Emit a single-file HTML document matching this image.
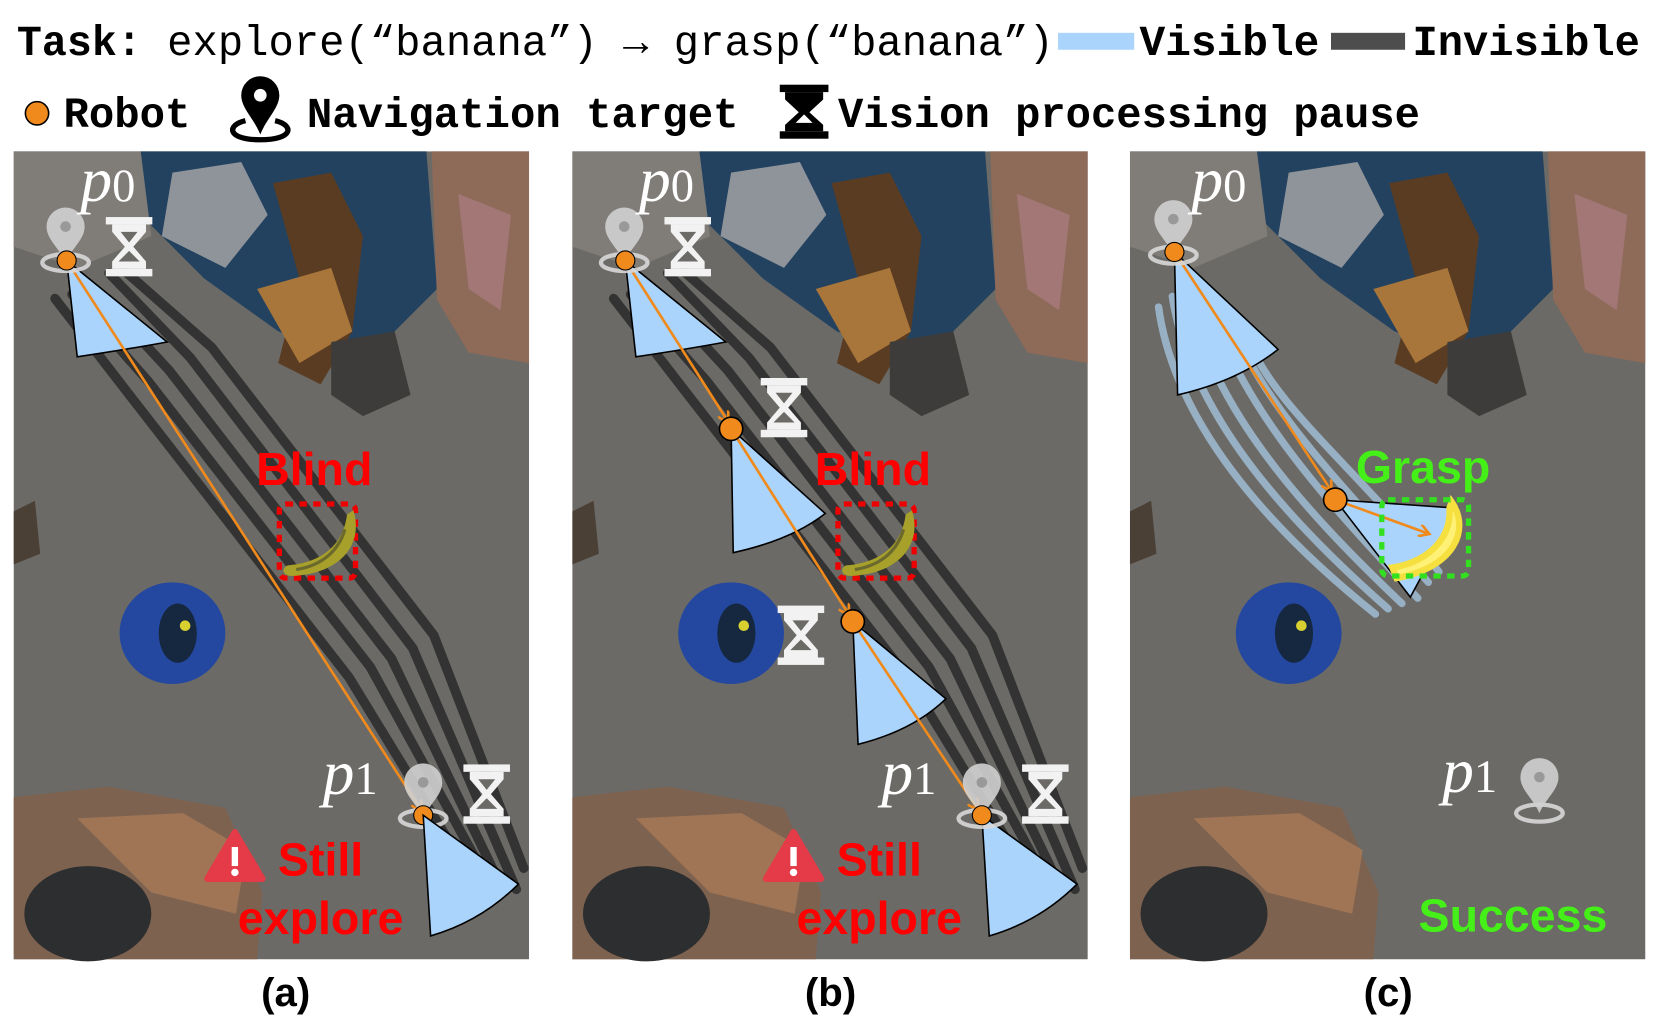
<!DOCTYPE html>
<html><head><meta charset="utf-8"><style>html,body{margin:0;padding:0;background:#fff}svg{display:block}</style></head>
<body>
<svg width="1659" height="1027" viewBox="0 0 1568 970" preserveAspectRatio="none" xmlns="http://www.w3.org/2000/svg">
<defs>
<g id="bg">
<rect x="0" y="0" width="487" height="763" fill="#6b6a66"/>
<path d="M120,0 L390,0 L400,130 L330,200 L250,170 L180,120 L120,60Z" fill="#234260"/>
<path d="M0,0 L120,0 L130,80 L60,110 L0,90Z" fill="#807d78"/>
<path d="M150,20 L215,10 L240,60 L200,110 L140,80Z" fill="#8f949a"/>
<path d="M245,30 L300,20 L330,80 L320,170 L290,220 L250,200 L270,120Z" fill="#5a3c22"/>
<path d="M230,130 L300,110 L320,170 L270,200Z" fill="#a8763a"/>
<path d="M300,180 L360,170 L375,230 L330,250 L300,230Z" fill="#3e3c3a"/>
<path d="M395,0 L487,0 L487,200 L430,190 L400,140Z" fill="#8e6a58"/>
<path d="M420,40 L470,60 L460,150 L430,130Z" fill="#b0808a" opacity="0.6"/>
<ellipse cx="150" cy="455" rx="50" ry="48" fill="#2448a0"/>
<ellipse cx="155" cy="455" rx="18" ry="28" fill="#152840"/>
<circle cx="162" cy="448" r="5" fill="#d8d030"/>
<path d="M0,610 L90,600 L200,620 L235,700 L230,763 L0,763Z" fill="#7e6250"/>
<path d="M60,630 L160,625 L220,660 L210,720 L130,700Z" fill="#a87a58" opacity="0.8"/>
<ellipse cx="70" cy="720" rx="60" ry="45" fill="#2c2e30"/>
<path d="M0,340 L20,330 L25,380 L0,390Z" fill="#4a4036"/>
</g>
<g id="pin">
<ellipse cx="0" cy="28" rx="22" ry="8" fill="none" stroke="#d8d8d8" stroke-width="4" opacity="0.9"/>
<path d="M0,28 C-6,14 -18,6 -18,-6 A18,18 0 1 1 18,-6 C18,6 6,14 0,28Z" fill="#d0d0d0" opacity="0.9"/>
<circle cx="0" cy="-6" r="5" fill="#999"/>
</g>
<g id="hg">
<rect x="-22" y="-28" width="44" height="7" fill="#f2f2f2"/>
<rect x="-22" y="21" width="44" height="7" fill="#f2f2f2"/>
<path d="M-16,-21 L16,-21 L16,-14 L4,0 L16,14 L16,21 L-16,21 L-16,14 L-4,0 L-16,-14Z" fill="#f2f2f2"/>
<path d="M-8,-14 L8,-14 L0,-4Z M-10,14 L10,14 L0,4Z" fill="#6b6a66"/>
</g>
<g id="banana"><path d="M-28,24 C0,22 24,8 28,-24 L34,-28 C44,4 22,32 -24,34 C-34,34 -34,26 -28,24Z" fill="#a7a02a"/><path d="M-20,28 C5,24 20,10 26,-10" fill="none" stroke="#6b6a2c" stroke-width="3"/></g>
<marker id="ar" markerWidth="12" markerHeight="12" refX="9" refY="6" orient="auto" markerUnits="userSpaceOnUse"><path d="M0,0 L10,6 L0,12" fill="none" stroke="#f08a1c" stroke-width="2.5"/></marker>
<g id="warn"><path d="M0,-24 L26,20 L-26,20Z" fill="#e53a48" stroke="#e53a48" stroke-width="6" stroke-linejoin="round"/><rect x="-3" y="-10" width="6" height="18" fill="#fff"/><circle cx="0" cy="14" r="3.5" fill="#fff"/></g>
</defs>

<g font-family="'Liberation Mono','DejaVu Sans Mono',monospace" font-size="40" fill="#000">
<text x="16" y="52" textLength="118" lengthAdjust="spacingAndGlyphs" font-weight="bold">Task:</text>
<text x="158" y="52" textLength="838" lengthAdjust="spacingAndGlyphs">explore(“banana”) → grasp(“banana”)</text>
<rect x="1000" y="31" width="72" height="16" fill="#aad4fb"/>
<text x="1077" y="52" textLength="170" lengthAdjust="spacingAndGlyphs" font-weight="bold">Visible</text>
<rect x="1258" y="31" width="70" height="16" fill="#4d4d4d"/>
<text x="1335" y="52" textLength="215" lengthAdjust="spacingAndGlyphs" font-weight="bold">Invisible</text>
<circle cx="35" cy="107" r="11" fill="#f08a1c" stroke="#000" stroke-width="1.5"/>
<text x="60" y="120" textLength="120" lengthAdjust="spacingAndGlyphs" font-weight="bold">Robot</text>
<path d="M246,127 C240,112 228,102 228,90 A18,18 0 1 1 264,90 C264,102 252,112 246,127Z" fill="#000"/>
<circle cx="246" cy="90" r="6" fill="#fff"/>
<path d="M232,114 C214,118 214,132 246,132 C278,132 278,118 260,114" fill="none" stroke="#000" stroke-width="5"/>
<text x="290" y="120" textLength="408" lengthAdjust="spacingAndGlyphs" font-weight="bold">Navigation target</text>
<rect x="737" y="80" width="46" height="7" fill="#000"/><rect x="737" y="124" width="46" height="7" fill="#000"/>
<path d="M742,87 L778,87 L778,94 L765,106 L778,118 L778,124 L742,124 L742,118 L755,106 L742,94Z" fill="#000"/>
<path d="M752,116 L768,116 L760,108Z" fill="#fff"/>
<text x="792" y="120" textLength="550" lengthAdjust="spacingAndGlyphs" font-weight="bold">Vision processing pause</text>
</g>

<use href="#bg" x="13" y="143"/>
<use href="#bg" x="541" y="143"/>
<use href="#bg" x="1068" y="143"/>

<!-- Panel A -->
<g>
<g fill="none" stroke="#333" stroke-width="9" stroke-linecap="round">
<path d="M52,282 L120,370 L330,640 L440,820"/>
<path d="M68,278 L140,360 L350,630 L460,830"/>
<path d="M86,270 L160,350 L370,622 L475,840"/>
<path d="M103,258 L180,338 L390,612 L488,840"/>
<path d="M118,256 L200,328 L410,600 L495,820"/>
</g>
<path d="M63,246 L73,337 Q120,330 158,323Z" fill="#aad4fb" stroke="#000" stroke-width="1.5"/>
<line x1="63" y1="246" x2="398" y2="765" stroke="#f08a1c" stroke-width="2.5" marker-end="url(#ar)"/>
<use href="#pin" x="62" y="220"/>
<circle cx="63" cy="246" r="9" fill="#f08a1c" stroke="#000" stroke-width="1"/>
<use href="#hg" x="122" y="233"/>
<text x="76" y="190" font-family="'Liberation Serif',serif" font-style="italic" font-size="60" fill="#fff">p<tspan font-style="normal" font-size="44">0</tspan></text>
<text x="297" y="458" text-anchor="middle" font-family="'Liberation Sans',sans-serif" font-weight="bold" font-size="44" fill="#f00">Blind</text>
<rect x="264" y="476" width="72" height="70" rx="6" fill="none" stroke="#e00" stroke-width="5" stroke-dasharray="7,6"/>
<use href="#banana" x="300" y="510"/>
<use href="#pin" x="400" y="745"/>
<circle cx="400" cy="770" r="9" fill="#f08a1c" stroke="#000" stroke-width="1"/>
<use href="#hg" x="460" y="750"/>
<text x="305" y="750" font-family="'Liberation Serif',serif" font-style="italic" font-size="60" fill="#fff">p<tspan font-style="normal" font-size="44">1</tspan></text>
<path d="M400,770 L407,884 Q455,870 490,835Z" fill="#aad4fb" stroke="#000" stroke-width="1.5"/>
<use href="#warn" x="222" y="810"/>
<text x="303" y="827" text-anchor="middle" font-family="'Liberation Sans',sans-serif" font-weight="bold" font-size="44" fill="#f00">Still</text>
<text x="303" y="882" text-anchor="middle" font-family="'Liberation Sans',sans-serif" font-weight="bold" font-size="44" fill="#f00">explore</text>
<text x="270" y="950" text-anchor="middle" font-family="'Liberation Sans',sans-serif" font-weight="bold" font-size="38">(a)</text>
</g>

<!-- Panel B -->
<g transform="translate(528,0)">
<g fill="none" stroke="#333" stroke-width="9" stroke-linecap="round">
<path d="M52,282 L120,370 L330,640 L440,820"/>
<path d="M68,278 L140,360 L350,630 L460,830"/>
<path d="M86,270 L160,350 L370,622 L475,840"/>
<path d="M103,258 L180,338 L390,612 L488,840"/>
<path d="M118,256 L200,328 L410,600 L495,820"/>
</g>
<path d="M63,246 L73,337 Q120,330 158,323Z" fill="#aad4fb" stroke="#000" stroke-width="1.5"/>
<path d="M163,405 L165,522 Q220,510 252,485Z" fill="#aad4fb" stroke="#000" stroke-width="1.5"/>
<path d="M278,587 L283,703 Q335,690 366,660Z" fill="#aad4fb" stroke="#000" stroke-width="1.5"/>
<path d="M400,770 L407,884 Q455,870 490,835Z" fill="#aad4fb" stroke="#000" stroke-width="1.5"/>
<g stroke="#f08a1c" stroke-width="2.5">
<line x1="63" y1="246" x2="160" y2="398" marker-end="url(#ar)"/>
<line x1="163" y1="405" x2="274" y2="580" marker-end="url(#ar)"/>
<line x1="278" y1="587" x2="396" y2="764" marker-end="url(#ar)"/>
</g>
<use href="#pin" x="62" y="220"/>
<circle cx="63" cy="246" r="9" fill="#f08a1c" stroke="#000" stroke-width="1"/>
<circle cx="163" cy="405" r="11" fill="#f08a1c" stroke="#000" stroke-width="1.5"/>
<circle cx="278" cy="587" r="11" fill="#f08a1c" stroke="#000" stroke-width="1.5"/>
<use href="#hg" x="122" y="233"/>
<use href="#hg" x="213" y="385"/>
<use href="#hg" x="229" y="600"/>
<text x="76" y="190" font-family="'Liberation Serif',serif" font-style="italic" font-size="60" fill="#fff">p<tspan font-style="normal" font-size="44">0</tspan></text>
<text x="297" y="458" text-anchor="middle" font-family="'Liberation Sans',sans-serif" font-weight="bold" font-size="44" fill="#f00">Blind</text>
<rect x="264" y="476" width="72" height="70" rx="6" fill="none" stroke="#e00" stroke-width="5" stroke-dasharray="7,6"/>
<use href="#banana" x="300" y="510"/>
<use href="#pin" x="400" y="745"/>
<circle cx="400" cy="770" r="9" fill="#f08a1c" stroke="#000" stroke-width="1"/>
<use href="#hg" x="460" y="750"/>
<text x="305" y="750" font-family="'Liberation Serif',serif" font-style="italic" font-size="60" fill="#fff">p<tspan font-style="normal" font-size="44">1</tspan></text>
<use href="#warn" x="222" y="810"/>
<text x="303" y="827" text-anchor="middle" font-family="'Liberation Sans',sans-serif" font-weight="bold" font-size="44" fill="#f00">Still</text>
<text x="303" y="882" text-anchor="middle" font-family="'Liberation Sans',sans-serif" font-weight="bold" font-size="44" fill="#f00">explore</text>
<text x="257" y="950" text-anchor="middle" font-family="'Liberation Sans',sans-serif" font-weight="bold" font-size="38">(b)</text>
</g>

<!-- Panel C -->
<g>
<g fill="none" stroke="#a8c8e4" stroke-width="7" opacity="0.75" stroke-linecap="round">
<path d="M1095,290 C1110,400 1200,500 1300,580"/>
<path d="M1108,280 C1125,390 1215,490 1312,575"/>
<path d="M1122,270 C1140,380 1230,480 1325,570"/>
<path d="M1140,270 C1160,370 1250,470 1340,565"/>
<path d="M1160,290 C1180,370 1270,460 1350,550"/>
<path d="M1180,320 C1200,380 1290,450 1360,540"/>
</g>
<path d="M1110,238 L1113,373 Q1170,360 1208,330Z" fill="#aad4fb" stroke="#000" stroke-width="1.5"/>
<line x1="1110" y1="238" x2="1258" y2="463" stroke="#f08a1c" stroke-width="2.5" marker-end="url(#ar)"/>
<path d="M1262,472 L1333,564 L1378,480Z" fill="#aad4fb" stroke="#000" stroke-width="1.5"/>
<line x1="1262" y1="472" x2="1350" y2="504" stroke="#f08a1c" stroke-width="2.5" marker-end="url(#ar)"/>
<path d="M1316,536 C1345,532 1372,512 1370,480 L1372,474 C1390,500 1375,536 1320,546Z" fill="#fff176" stroke="#f5e040" stroke-width="6"/>
<rect x="1306" y="472" width="82" height="72" rx="6" fill="none" stroke="#33e020" stroke-width="5" stroke-dasharray="7,6"/>
<text x="1345" y="456" text-anchor="middle" font-family="'Liberation Sans',sans-serif" font-weight="bold" font-size="44" fill="#44f018">Grasp</text>
<use href="#pin" x="1109" y="213"/>
<circle cx="1110" cy="238" r="9" fill="#f08a1c" stroke="#000" stroke-width="1"/>
<circle cx="1262" cy="472" r="11" fill="#f08a1c" stroke="#000" stroke-width="1.5"/>
<text x="1126" y="190" font-family="'Liberation Serif',serif" font-style="italic" font-size="60" fill="#fff">p<tspan font-style="normal" font-size="44">0</tspan></text>
<use href="#pin" x="1455" y="740"/>
<text x="1363" y="748" font-family="'Liberation Serif',serif" font-style="italic" font-size="60" fill="#fff">p<tspan font-style="normal" font-size="44">1</tspan></text>
<text x="1430" y="880" text-anchor="middle" font-family="'Liberation Sans',sans-serif" font-weight="bold" font-size="44" fill="#44f018">Success</text>
<text x="1312" y="950" text-anchor="middle" font-family="'Liberation Sans',sans-serif" font-weight="bold" font-size="38">(c)</text>
</g>
</svg>
</body></html>
